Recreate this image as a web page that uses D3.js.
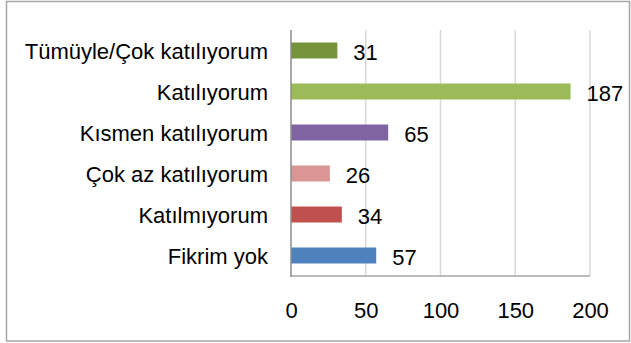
<!DOCTYPE html>
<html>
<head>
<meta charset="utf-8">
<script src="https://cdn.jsdelivr.net/npm/d3@7"></script>
<style>
  html, body { margin: 0; padding: 0; background: #fff; }
  svg { display: block; }
  text { font-family: "Liberation Sans", Arial, sans-serif; fill: #000; }
</style>
</head>
<body>
<svg id="chart" width="631" height="343"></svg>
<script>
// Survey answers, top to bottom
const categories = [
  "Tümüyle/Çok katılıyorum",
  "Katılıyorum",
  "Kısmen katılıyorum",
  "Çok az katılıyorum",
  "Katılmıyorum",
  "Fikrim yok"
];
const counts = [31, 187, 65, 26, 34, 57];
const barColors = ["#77933C", "#9BBB59", "#8064A2", "#D99694", "#C0504D", "#4F81BD"];
const xTicks = [0, 50, 100, 150, 200];

const svg = d3.select("#chart");
const plot = { left: 291, right: 590, top: 30, bottom: 276 };

// Outer frame
svg.append("rect")
  .attr("x", 6.5).attr("y", 1.5)
  .attr("width", 623).attr("height", 339.5)
  .attr("fill", "#fff")
  .attr("stroke", "#a6a6a6")
  .attr("stroke-width", 1.5);

const x = d3.scaleLinear().domain([0, 200]).range([plot.left, plot.right]);
const y = d3.scaleBand().domain(categories).range([plot.top, plot.bottom]).paddingInner(0.61).paddingOuter(0.305);

// Vertical gridlines
svg.append("g")
  .selectAll("line")
  .data(xTicks.filter(t => t > 0))
  .join("line")
  .attr("x1", d => x(d)).attr("x2", d => x(d))
  .attr("y1", plot.top).attr("y2", plot.bottom)
  .attr("stroke", "#d9d9d9")
  .attr("stroke-width", 1.5);

// Bars
svg.append("g")
  .selectAll("rect")
  .data(categories)
  .join("rect")
  .attr("x", x(0))
  .attr("y", d => y(d))
  .attr("width", (d, i) => x(counts[i]) - x(0))
  .attr("height", y.bandwidth())
  .attr("fill", (d, i) => barColors[i]);

// Value labels
svg.append("g")
  .selectAll("text")
  .data(categories)
  .join("text")
  .attr("x", (d, i) => x(counts[i]) + 16)
  .attr("y", d => y(d) + y.bandwidth() / 2 + 9)
  .attr("font-size", 22)
  .text((d, i) => counts[i]);

// Axis lines
svg.append("line")
  .attr("x1", plot.left).attr("x2", plot.right)
  .attr("y1", plot.bottom).attr("y2", plot.bottom)
  .attr("stroke", "#a6a6a6").attr("stroke-width", 1.5);
svg.append("line")
  .attr("x1", plot.left).attr("x2", plot.left)
  .attr("y1", plot.top).attr("y2", plot.bottom + 1)
  .attr("stroke", "#8c8c8c").attr("stroke-width", 1.5);

// X tick labels
const xAxis = d3.axisBottom(x).tickValues(xTicks).tickSize(0).tickPadding(0);
const gx = svg.append("g").attr("transform", `translate(0,${plot.bottom})`).call(xAxis);
gx.select(".domain").remove();
gx.selectAll("text")
  .attr("dy", null)
  .attr("y", 42)
  .attr("font-size", 22)
  .attr("font-family", "Liberation Sans, Arial, sans-serif")
  .attr("fill", "#000");

// Category labels
const yAxis = d3.axisLeft(y).tickSize(0).tickPadding(0);
const gy = svg.append("g").attr("transform", `translate(268,0)`).call(yAxis);
gy.select(".domain").remove();
gy.selectAll("text")
  .attr("dy", null)
  .attr("dominant-baseline", null)
  .attr("y", 0)
  .attr("transform", "translate(0,8)")
  .attr("font-size", 22)
  .attr("font-family", "Liberation Sans, Arial, sans-serif")
  .attr("fill", "#000");
</script>
</body>
</html>
